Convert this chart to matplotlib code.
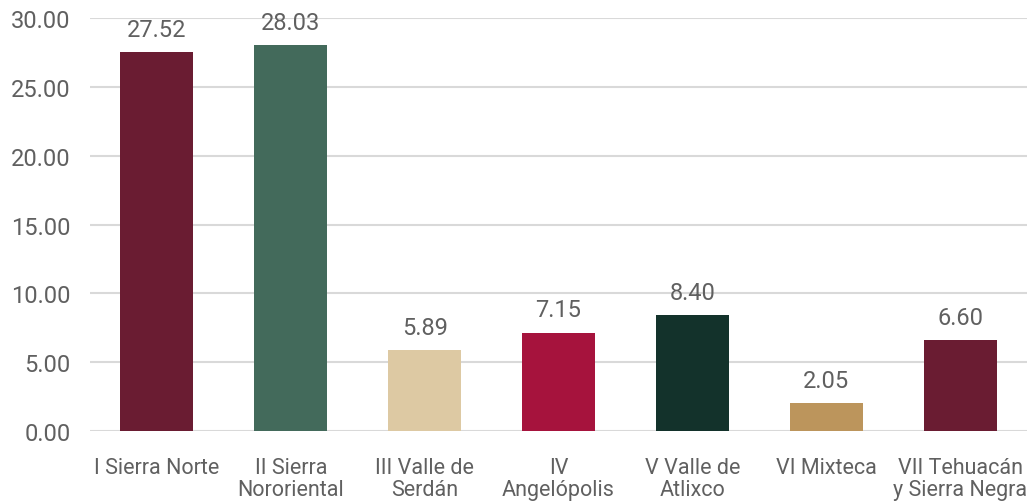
import matplotlib
matplotlib.use("Agg")
import matplotlib.pyplot as plt
import numpy as np

plt.rcParams['font.family'] = ['Roboto', 'DejaVu Sans']

# datos por region
regiones = ['I Sierra Norte', 'II Sierra\nNororiental', 'III Valle de\nSerdán', 'IV\nAngelópolis',
            'V Valle de\nAtlixco', 'VI Mixteca', 'VII Tehuacán\ny Sierra Negra']
valores = [27.52, 28.03, 5.89, 7.15, 8.40, 2.05, 6.60]
colores = ['#6A1C32', '#436A5B', '#DDC9A3', '#A6133D', '#13322B', '#BC955C', '#6A1C32']
yticks = [0, 5, 10, 15, 20, 25, 30]

texto = '#606060'

fig = plt.figure(figsize=(10.27, 5.02), dpi=100)
ax = fig.add_axes([0.0876, 0.1394, 0.9124, 0.8227])

x = np.arange(len(regiones))
barras = ax.bar(x, valores, width=0.545, color=colores, zorder=3)

for b, v in zip(barras, valores):
    ax.annotate('{:.2f}'.format(v), (b.get_x() + b.get_width() / 2, v),
                xytext=(0, 8), textcoords='offset points', ha='center', va='bottom',
                fontsize=17, color=texto, annotation_clip=False)

ax.set_xlim(-0.5, len(regiones) - 0.5)
ax.set_ylim(0, 30)
ax.set_yticks(yticks)
ax.set_yticklabels(['{:.2f}'.format(t) for t in yticks])
ax.set_xticks(x)
ax.set_xticklabels(regiones, linespacing=1.08)

ax.grid(axis='y', color='#D9D9D9', linewidth=1.5, zorder=0)
for s in ax.spines.values():
    s.set_visible(False)
ax.tick_params(axis='y', length=0, pad=14, labelsize=17, labelcolor=texto)
ax.tick_params(axis='x', length=0, pad=18.5, labelsize=15.5, labelcolor=texto)

fig.savefig('out.png', dpi=100)
